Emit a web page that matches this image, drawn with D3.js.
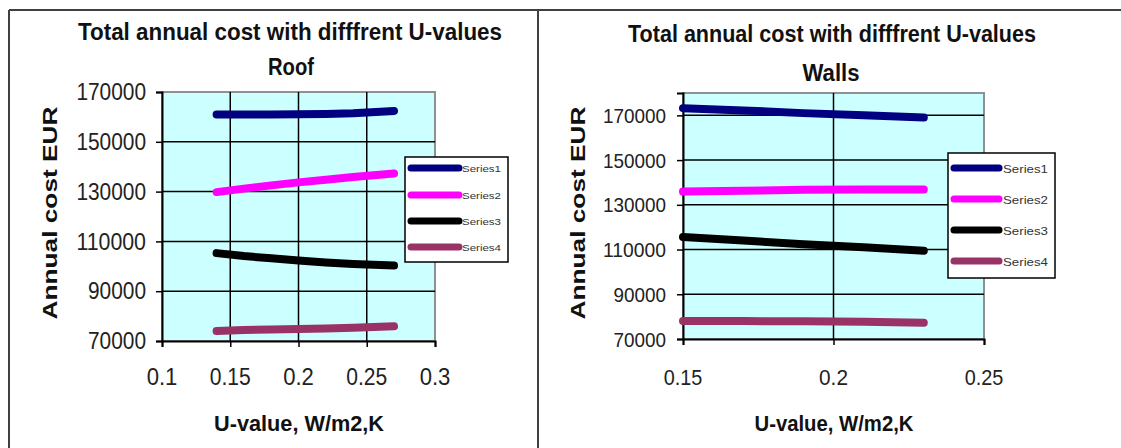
<!DOCTYPE html>
<html>
<head>
<meta charset="utf-8">
<script src="https://cdn.jsdelivr.net/npm/d3@7"></script>
<style>
  body { margin:0; background:#fff; }
  svg { display:block; font-family:"Liberation Sans", Arial, sans-serif; }
</style>
</head>
<body>
<svg id="chart" width="1121" height="448"></svg>
<script>
// data
var seriesNames = ['Series1','Series2','Series3','Series4'];
var seriesColors = ['#000080','#FF00FF','#000000','#993366'];

var roofU = [0.14, 0.16, 0.18, 0.20, 0.22, 0.24, 0.27];
var roofS1 = [161000, 161000, 161000, 161100, 161200, 161500, 162400];
var roofS2 = [129800, 131200, 132500, 133700, 134800, 135900, 137300];
var roofS3 = [105300, 104100, 103200, 102300, 101500, 100900, 100300];
var roofS4 = [74000, 74400, 74600, 74800, 75000, 75300, 75900];
var roofXTicks = [0.1, 0.15, 0.2, 0.25, 0.3];
var roofYTicks = [70000, 90000, 110000, 130000, 150000, 170000];

var wallsU = [0.15, 0.17, 0.19, 0.21, 0.23];
var wallsS1 = [173200, 172200, 171000, 170000, 169000];
var wallsS2 = [135900, 136300, 136700, 136900, 136900];
var wallsS3 = [115600, 114000, 112400, 111000, 109500];
var wallsS4 = [78000, 78000, 77900, 77700, 77300];
var wallsXTicks = [0.15, 0.2, 0.25];
var wallsYTicks = [70000, 90000, 110000, 130000, 150000, 170000];

var svg = d3.select('#chart');

// outer frame
svg.append('line').attr('x1',9).attr('y1',10).attr('x2',1121).attr('y2',10)
    .attr('stroke','#404040').attr('stroke-width',2);
svg.append('line').attr('x1',9).attr('y1',10).attr('x2',9).attr('y2',448)
    .attr('stroke','#404040').attr('stroke-width',2);
svg.append('line').attr('x1',538).attr('y1',10).attr('x2',538).attr('y2',448)
    .attr('stroke','#404040').attr('stroke-width',2);

var roof = {
    title: {x:290, y:40, len:424}, sub: {text:'Roof', x:291, y:75, len:46},
    plot: {left:162, right:435, top:92, bottom:341},
    xDomain: [0.1, 0.3], yDomain: [70000, 170000],
    xTicks: roofXTicks, yTicks: roofYTicks,
    xGrid: [0.15, 0.2, 0.25], yGrid: [90000, 110000, 130000, 150000],
    yLab: {right:146, size:23, digit:11.6}, xLab: {y:385, size:23, w15:41},
    xTitle: {x:299, y:431, len:170}, yTitle: {x:57, y:213, len:213},
    legend: {x:405, y:157, w:103, h:105, rows:[168,195,221,247], lx1:411, lx2:459, tx:462, size:9, tlen:39},
    u: roofU, s: [roofS1, roofS2, roofS3, roofS4]
};

var walls = {
    title: {x:832, y:42, len:408}, sub: {text:'Walls', x:831, y:81, len:57},
    plot: {left:683, right:984, top:93, bottom:339},
    xDomain: [0.15, 0.25], yDomain: [70000, 180000],
    xTicks: wallsXTicks, yTicks: wallsYTicks,
    xGrid: [0.2], yGrid: [90000, 110000, 130000, 150000, 170000],
    yLab: {right:666, size:21, digit:10.5}, xLab: {y:385, size:22, w15:38.6},
    xTitle: {x:834, y:431, len:159}, yTitle: {x:585, y:213, len:213},
    legend: {x:948, y:153, w:107, h:125, rows:[168,199,230,261], lx1:954, lx2:999, tx:1003, size:11, tlen:45},
    u: wallsU, s: [wallsS1, wallsS2, wallsS3, wallsS4]
};

drawChart(roof);
drawChart(walls);

function drawChart(c){
    var g = svg.append('g');
    var p = c.plot;
    var x = d3.scaleLinear().domain(c.xDomain).range([p.left, p.right]);
    var y = d3.scaleLinear().domain(c.yDomain).range([p.bottom, p.top]);

    // titles
    g.append('text').attr('x',c.title.x).attr('y',c.title.y)
        .attr('text-anchor','middle').attr('font-weight','bold').attr('font-size',23)
        .attr('fill','#111')
        .attr('textLength',c.title.len).attr('lengthAdjust','spacingAndGlyphs')
        .text('Total annual cost with difffrent U-values');
    g.append('text').attr('x',c.sub.x).attr('y',c.sub.y)
        .attr('text-anchor','middle').attr('font-weight','bold').attr('font-size',23)
        .attr('fill','#111')
        .attr('textLength',c.sub.len).attr('lengthAdjust','spacingAndGlyphs')
        .text(c.sub.text);

    // plot area
    g.append('rect').attr('x',p.left).attr('y',p.top)
        .attr('width',p.right-p.left).attr('height',p.bottom-p.top)
        .attr('fill','#CCFFFF').attr('stroke','#909090').attr('stroke-width',2);

    g.selectAll('.ygrid').data(c.yGrid).join('line').attr('class','ygrid')
        .attr('x1',p.left).attr('x2',p.right)
        .attr('y1',d => y(d)).attr('y2',d => y(d))
        .attr('stroke','#000').attr('stroke-width',1.5);
    g.selectAll('.xgrid').data(c.xGrid).join('line').attr('class','xgrid')
        .attr('x1',d => x(d)).attr('x2',d => x(d))
        .attr('y1',p.top).attr('y2',p.bottom)
        .attr('stroke','#000').attr('stroke-width',1.5);

    // axes
    var yAxis = d3.axisLeft(y).tickValues(c.yTicks).tickSize(6).tickFormat('');
    var xAxis = d3.axisBottom(x).tickValues(c.xTicks).tickSize(6).tickFormat('');
    var ya = g.append('g').attr('transform','translate('+p.left+',0)').call(yAxis);
    var xa = g.append('g').attr('transform','translate(0,'+p.bottom+')').call(xAxis);
    [ya, xa].forEach(a => {
        a.select('.domain').attr('stroke','#000').attr('stroke-width',2);
        a.selectAll('.tick line').attr('stroke','#000').attr('stroke-width',1.5);
    });

    // tick labels
    g.selectAll('.ylab').data(c.yTicks).join('text').attr('class','ylab')
        .attr('x',c.yLab.right).attr('y',d => y(d))
        .attr('dy','0.36em').attr('text-anchor','end')
        .attr('font-size',c.yLab.size).attr('fill','#222')
        .attr('textLength',d => String(d).length*c.yLab.digit).attr('lengthAdjust','spacingAndGlyphs')
        .text(d => d);
    g.selectAll('.xlab').data(c.xTicks).join('text').attr('class','xlab')
        .attr('x',d => x(d)).attr('y',c.xLab.y)
        .attr('text-anchor','middle')
        .attr('font-size',c.xLab.size).attr('fill','#222')
        .attr('textLength',d => String(d).length/4*c.xLab.w15).attr('lengthAdjust','spacingAndGlyphs')
        .text(d => d);

    // axis titles
    g.append('text').attr('x',c.xTitle.x).attr('y',c.xTitle.y)
        .attr('text-anchor','middle').attr('font-weight','bold').attr('font-size',22)
        .attr('fill','#111')
        .attr('textLength',c.xTitle.len).attr('lengthAdjust','spacingAndGlyphs')
        .text('U-value, W/m2,K');
    g.append('text')
        .attr('transform','translate('+c.yTitle.x+','+c.yTitle.y+') rotate(-90)')
        .attr('text-anchor','middle').attr('font-weight','bold').attr('font-size',20)
        .attr('fill','#111')
        .attr('textLength',c.yTitle.len).attr('lengthAdjust','spacingAndGlyphs')
        .text('Annual cost EUR');

    // series
    var line = d3.line().x(d => x(d[0])).y(d => y(d[1]));
    c.s.forEach((vals, i) => {
        g.append('path')
            .datum(c.u.map((u, j) => [u, vals[j]]))
            .attr('d', line)
            .attr('fill','none')
            .attr('stroke',seriesColors[i])
            .attr('stroke-width',8)
            .attr('stroke-linecap','round')
            .attr('stroke-linejoin','round');
    });

    // legend
    var L = c.legend;
    g.append('rect').attr('x',L.x).attr('y',L.y).attr('width',L.w).attr('height',L.h)
        .attr('fill','#fff').attr('stroke','#000').attr('stroke-width',1.5);
    g.selectAll('.legline').data(seriesNames).join('line').attr('class','legline')
        .attr('x1',L.lx1).attr('x2',L.lx2)
        .attr('y1',(d,i) => L.rows[i]).attr('y2',(d,i) => L.rows[i])
        .attr('stroke',(d,i) => seriesColors[i]).attr('stroke-width',7)
        .attr('stroke-linecap','round');
    g.selectAll('.legtext').data(seriesNames).join('text').attr('class','legtext')
        .attr('x',L.tx).attr('y',(d,i) => L.rows[i]+L.size*0.45)
        .attr('font-size',L.size).attr('fill','#333')
        .attr('textLength',L.tlen).attr('lengthAdjust','spacingAndGlyphs')
        .text(d => d);
}
</script>
</body>
</html>
